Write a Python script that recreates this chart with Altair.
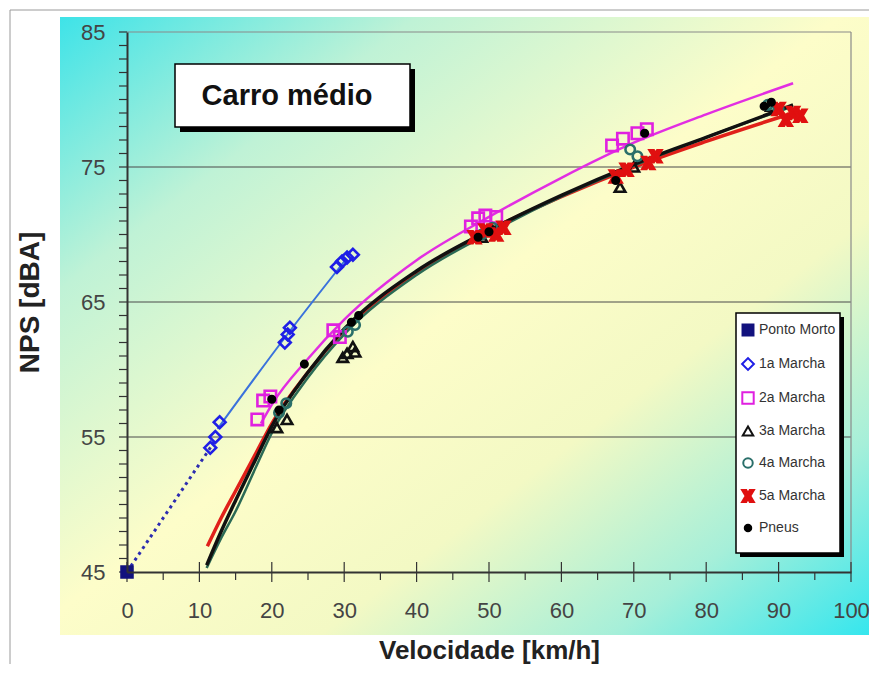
import altair as alt
import pandas as pd

# ---------------- data ----------------
series_order = ["Ponto Morto", "1a Marcha", "2a Marcha", "3a Marcha", "4a Marcha", "5a Marcha", "Pneus"]

ponto_x = [0]
ponto_y = [45]

m1_x = [11.5, 12.2, 12.8, 21.8, 22.2, 22.5, 29.0, 29.7, 30.4, 31.2]
m1_y = [54.2, 55.0, 56.1, 62.0, 62.6, 63.1, 67.6, 68.0, 68.3, 68.5]

m2_x = [18.0, 18.8, 19.8, 28.5, 29.4, 47.5, 48.5, 49.5, 51.0, 67.0, 68.5, 70.5, 71.8]
m2_y = [56.3, 57.7, 58.0, 62.9, 62.4, 70.6, 71.2, 71.4, 71.3, 76.6, 77.1, 77.5, 77.8]

m3_x = [20.7, 22.1, 29.8, 30.4, 31.2, 31.5, 49.0, 50.5, 68.1, 70.0, 89.0]
m3_y = [55.7, 56.3, 60.9, 61.2, 61.7, 61.3, 69.8, 70.3, 73.5, 75.0, 79.5]

m4_x = [21.0, 22.0, 30.5, 31.5, 49.0, 50.5, 69.5, 70.5, 88.5, 90.0]
m4_y = [56.8, 57.5, 62.8, 63.3, 70.0, 70.5, 76.3, 75.8, 79.6, 79.3]

m5_x = [48.0, 49.5, 51.0, 52.0, 67.5, 69.0, 72.0, 73.0, 90.0, 91.0, 92.0, 93.0]
m5_y = [69.8, 70.3, 70.0, 70.5, 74.3, 74.8, 75.3, 75.8, 79.3, 78.5, 79.0, 78.8]

pneus_x = [20.0, 21.0, 24.5, 31.0, 32.0, 48.5, 50.0, 67.5, 71.5, 88.0, 89.0]
pneus_y = [57.8, 57.0, 60.4, 63.5, 64.0, 69.8, 70.2, 74.0, 77.5, 79.5, 79.8]

# trend curves
dotted_x = [0, 12.0]
dotted_y = [45, 54.6]

blue_x = [12.5, 22.0, 30.0]
blue_y = [55.6, 62.5, 68.0]

magenta_x = [18.5, 20, 25, 30, 40, 50, 60, 70, 80, 92]
magenta_y = [56.0, 57.4, 60.8, 63.7, 68.1, 71.3, 74.2, 76.8, 78.9, 81.2]

red_x = [11.1, 13, 15, 18, 20, 25, 30, 40, 50, 60, 70, 80, 92]
red_y = [46.9, 49.0, 51.0, 54.0, 56.0, 59.8, 62.9, 67.2, 70.3, 72.8, 75.0, 76.9, 79.0]

green_x = [11, 13, 15, 18, 20, 25, 30, 40, 50, 60, 70, 80, 92]
green_y = [45.3, 47.5, 49.5, 53.0, 55.3, 59.4, 62.6, 67.0, 70.1, 72.8, 75.1, 77.2, 79.5]

black_x = [11, 13, 15, 18, 20, 25, 30, 40, 50, 60, 70, 80, 92]
black_y = [45.5, 48.0, 50.3, 53.6, 55.8, 59.8, 63.0, 67.3, 70.3, 72.9, 75.2, 77.2, 79.6]

x_labels = [0, 10, 20, 30, 40, 50, 60, 70, 80, 90, 100]
x_minor = [5, 15, 25, 35, 45, 55, 65, 75, 85, 95]
y_labels = [45, 55, 65, 75, 85]
y_grid = [55, 65, 75]
y_minor = list(range(45, 86))

# ---------------- tables ----------------
frames = []
for name, xs_, ys_ in [
    ("Ponto Morto", ponto_x, ponto_y),
    ("1a Marcha", m1_x, m1_y),
    ("2a Marcha", m2_x, m2_y),
    ("3a Marcha", m3_x, m3_y),
    ("4a Marcha", m4_x, m4_y),
    ("5a Marcha", m5_x, m5_y),
    ("Pneus", pneus_x, pneus_y),
]:
    frames.append(pd.DataFrame({"v": xs_, "nps": ys_, "serie": name}))
points = pd.concat(frames, ignore_index=True)

W, H = 724, 540
FONT = "Liberation Sans"

xs = alt.Scale(domain=[0, 100], nice=False)
ys = alt.Scale(domain=[45, 85], nice=False)

one = pd.DataFrame({"k": [0]})

# background gradient panel
grad = alt.Gradient(
    gradient="linear",
    stops=[
        alt.GradientStop(color="#3ee3e8", offset=0),
        alt.GradientStop(color="#bff2d6", offset=0.22),
        alt.GradientStop(color="#fdfdc9", offset=0.48),
        alt.GradientStop(color="#f3f9c4", offset=0.66),
        alt.GradientStop(color="#a6efd9", offset=0.84),
        alt.GradientStop(color="#34e6ee", offset=1),
    ],
    x1=0, y1=0, x2=1, y2=1,
)
bg = alt.Chart(one).mark_rect(fill=grad).encode(
    x=alt.value(-67), x2=alt.value(745), y=alt.value(-15), y2=alt.value(603)
)
outer = alt.Chart(one).mark_rect(fill="transparent", stroke="#9a9a9a", strokeWidth=1).encode(
    x=alt.value(-117), x2=alt.value(760), y=alt.value(-22), y2=alt.value(700)
)

# grid + frame
grid = alt.Chart(pd.DataFrame({"g": y_grid})).mark_rule(color="#4a4a4a", strokeWidth=1).encode(
    y=alt.Y("g:Q", scale=ys), x=alt.value(0), x2=alt.value(W)
)
frame_top = alt.Chart(one).mark_rule(color="#8a8a8a", strokeWidth=1.2).encode(
    y=alt.value(0), x=alt.value(0), x2=alt.value(W)
)
frame_right = alt.Chart(one).mark_rule(color="#8a8a8a", strokeWidth=1.2).encode(
    x=alt.value(W), y=alt.value(0), y2=alt.value(H)
)

# ticks
ytick = alt.Chart(pd.DataFrame({"t": y_minor})).mark_rule(color="#333", strokeWidth=1.2).encode(
    y=alt.Y("t:Q", scale=ys), x=alt.value(-8), x2=alt.value(0)
)
xtick_minor = alt.Chart(pd.DataFrame({"t": x_minor})).mark_rule(color="#333", strokeWidth=1.2).encode(
    x=alt.X("t:Q", scale=xs), y=alt.value(H), y2=alt.value(H + 8)
)
xtick_major = alt.Chart(pd.DataFrame({"t": x_labels})).mark_rule(color="#333", strokeWidth=1.2).encode(
    x=alt.X("t:Q", scale=xs), y=alt.value(H - 10), y2=alt.value(H + 10)
)


def curve(xv, yv, color, width, dash=None):
    kw = dict(color=color, strokeWidth=width, interpolate="monotone")
    if dash:
        kw["strokeDash"] = dash
    return alt.Chart(pd.DataFrame({"v": xv, "nps": yv})).mark_line(**kw).encode(
        x=alt.X("v:Q", scale=xs), y=alt.Y("nps:Q", scale=ys)
    )


c_dot = curve(dotted_x, dotted_y, "#2c2cb0", 3, [3, 4])
c_blue = curve(blue_x, blue_y, "#3a72dc", 2)
c_red = curve(red_x, red_y, "#e0201a", 3.5)
c_green = curve(green_x, green_y, "#2b6a55", 2.5)
c_black = curve(black_x, black_y, "#111111", 3.5)
c_mag = curve(magenta_x, magenta_y, "#e22ee2", 2.5)

X_PATH = "M-1,-1L-0.3,-1L0,-0.45L0.3,-1L1,-1L0.4,0L1,1L0.3,1L0,0.45L-0.3,1L-1,1L-0.4,0Z"

pts = alt.Chart(points).mark_point(filled=True, strokeWidth=2.6, opacity=1).encode(
    x=alt.X("v:Q", scale=xs, axis=alt.Axis(
        values=x_labels, grid=False, ticks=False, domainColor="#333", domainWidth=2,
        labelFont=FONT, labelFontSize=22, labelColor="#444", labelPadding=28, labelFlush=False,
        title="Velocidade [km/h]", titleFont=FONT, titleFontSize=26, titleFontWeight="bold",
        titleColor="#222", titleX=362, titleY=78, titleBaseline="middle", titleAlign="center",
        zindex=1)),
    y=alt.Y("nps:Q", scale=ys, axis=alt.Axis(
        values=y_labels, grid=False, ticks=False, domainColor="#333", domainWidth=2,
        labelFont=FONT, labelFontSize=22, labelColor="#444", labelPadding=22,
        title="NPS [dBA]", titleFont=FONT, titleFontSize=28, titleFontWeight="bold",
        titleColor="#222", titleX=-97, titleY=270, titleAngle=270, titleBaseline="middle",
        titleAlign="center", zindex=1)),
    shape=alt.Shape("serie:N", scale=alt.Scale(domain=series_order, range=[
        "square", "diamond", "square", "triangle-up", "circle", X_PATH, "circle"]),
        legend=alt.Legend(orient="none", legendX=614, legendY=291, title=None,
                          labelFont=FONT, labelFontSize=14, labelColor="#333",
                          rowPadding=14, padding=0, labelOffset=4, symbolStrokeWidth=2)),
    stroke=alt.Stroke("serie:N", scale=alt.Scale(domain=series_order, range=[
        "#12127e", "#1f1fe6", "#e020e0", "#111111", "#2a6f6a", "#e01010", "#000000"])),
    fill=alt.Fill("serie:N", scale=alt.Scale(domain=series_order, range=[
        "#12127e", "transparent", "transparent", "transparent", "transparent", "#e01010", "#000000"])),
    size=alt.Size("serie:N", scale=alt.Scale(type="ordinal", domain=series_order, range=[
        120, 140, 130, 110, 90, 140, 42])),
)

# title box
tshadow = alt.Chart(one).mark_rect(fill="#000").encode(
    x=alt.value(53), x2=alt.value(288), y=alt.value(37), y2=alt.value(100))
tbox = alt.Chart(one).mark_rect(fill="white", stroke="#000", strokeWidth=1.5).encode(
    x=alt.value(48), x2=alt.value(283), y=alt.value(32), y2=alt.value(95))
ttext = alt.Chart(pd.DataFrame({"t": ["Carro médio"]})).mark_text(
    font=FONT, fontSize=29, fontWeight="bold", color="#111", align="center", baseline="middle"
).encode(text="t:N", x=alt.value(160), y=alt.value(64))

# legend box
lshadow = alt.Chart(one).mark_rect(fill="#000").encode(
    x=alt.value(613), x2=alt.value(717), y=alt.value(285), y2=alt.value(525))
lbox = alt.Chart(one).mark_rect(fill="white", stroke="#000", strokeWidth=1.5).encode(
    x=alt.value(609), x2=alt.value(713), y=alt.value(281), y2=alt.value(521))

chart = alt.layer(
    bg, outer, grid, frame_top, frame_right, ytick, xtick_minor, xtick_major,
    c_dot, c_blue, c_red, c_green, c_black, c_mag, pts,
    tshadow, tbox, ttext, lshadow, lbox,
).properties(
    width=W, height=H,
    autosize=alt.AutoSizeParams(type="none"),
    padding={"left": 119, "top": 24, "right": 18, "bottom": 92},
    background="white",
).configure_view(stroke=None)

chart.save("out.html", embed_options={"renderer": "svg", "actions": False})
